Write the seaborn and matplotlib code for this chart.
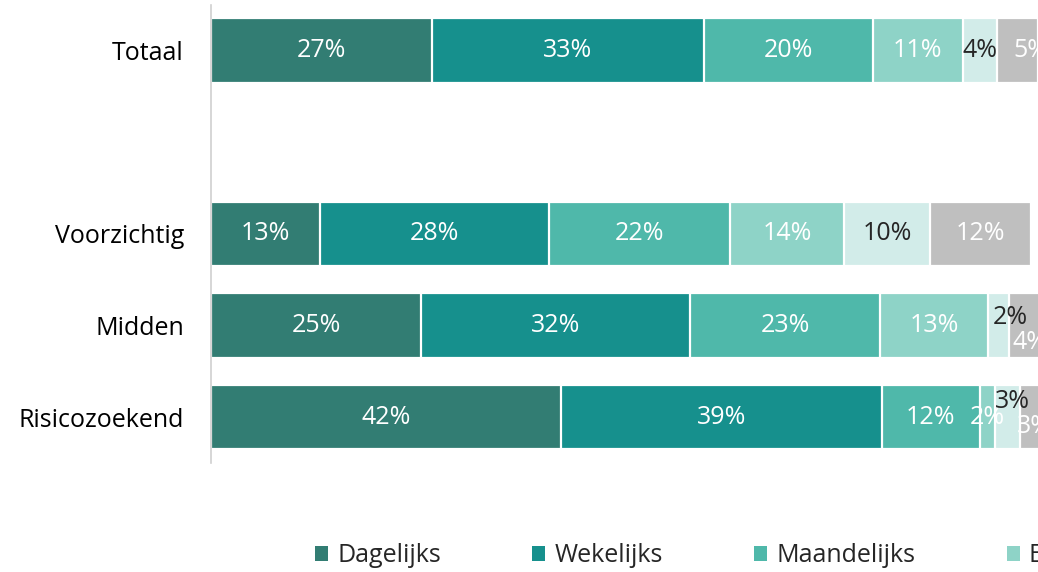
import numpy as np
import pandas as pd
import seaborn as sns
import matplotlib
matplotlib.use("Agg")
import matplotlib.pyplot as plt
from matplotlib.patches import Patch

# ---------------- data ----------------
categories = ["Totaal", "", "Voorzichtig", "Midden", "Risicozoekend"]
series = ["Dagelijks", "Wekelijks", "Maandelijks", "Eens per kwartaal", "Eens per jaar", "Minder vaak"]
totaal = [26.7, 32.9, 20.4, 10.9, 4.1, 5.0]
voorzichtig = [13.2, 27.7, 21.9, 13.7, 10.5, 12.1]
midden = [25.4, 32.5, 23.0, 13.1, 2.5, 4.0]
risicozoekend = [42.3, 38.8, 11.9, 1.8, 3.0, 3.0]

colors = ["#327D73", "#16908D", "#4FB8AA", "#8ED3C7", "#D2ECE9", "#BFBFBF"]
label_colors = ["white", "white", "white", "white", "#262626", "white"]

rows = {"Totaal": totaal, "Voorzichtig": voorzichtig, "Midden": midden, "Risicozoekend": risicozoekend}
records = []
for cat, vals in rows.items():
    for s, v in zip(series, vals):
        records.append({"cat": cat, "series": s, "value": v})
df = pd.DataFrame(records)
df["cum"] = df.groupby("cat")["value"].cumsum()

# manual label nudges (x in %, y in category units) for crowded small segments
nudges = {("Totaal", 5): (1.6, 0.0),
          ("Midden", 4): (1.4, -0.09), ("Midden", 5): (0.5, 0.19),
          ("Risicozoekend", 4): (0.6, -0.17), ("Risicozoekend", 5): (0.3, 0.10)}

# ---------------- figure ----------------
sns.set_style("white")
plt.rcParams["font.family"] = ["Open Sans", "DejaVu Sans"]
FS = 18

fig = plt.figure(figsize=(10.38, 5.72), dpi=100)
ax = fig.add_axes([211 / 1038, 1 - 463 / 572, 827 / 1038, (463 - 4.6) / 572])

for i in reversed(range(len(series))):
    sub = df[df["series"] == series[i]]
    sns.barplot(data=sub, x="cum", y="cat", order=categories, orient="h",
                color=colors[i], width=0.70, edgecolor="white", linewidth=1.6,
                saturation=1, ax=ax, errorbar=None)

ypos = {c: k for k, c in enumerate(categories)}
for _, r in df.iterrows():
    i = series.index(r["series"])
    dx, dy = nudges.get((r["cat"], i), (0.0, 0.0))
    ax.text(r["cum"] - r["value"] / 2 + dx, ypos[r["cat"]] + dy, f"{r['value']:.0f}%",
            ha="center", va="center", color=label_colors[i], fontsize=FS, clip_on=False)

ax.set_xlim(0, 100)
ax.set_ylim(len(categories) - 0.5, -0.5)
ax.set_xlabel("")
ax.set_ylabel("")
ax.set_xticks([])
ax.tick_params(axis="y", length=0, pad=19.5, labelsize=FS, labelcolor="black")
for side in ["top", "right", "bottom"]:
    ax.spines[side].set_visible(False)
ax.spines["left"].set_color("#D0D0D0")
ax.spines["left"].set_linewidth(1.2)

handles = [Patch(facecolor=c, edgecolor="none", label=s) for c, s in zip(colors, series)]
fig.legend(handles=handles, loc="center left", bbox_to_anchor=(315 / 1038, 1 - 556 / 572),
           ncol=6, frameon=False, fontsize=FS, handlelength=0.52, handleheight=0.52,
           handletextpad=0.36, columnspacing=3.66, borderpad=0, borderaxespad=0)

fig.savefig("out.png", dpi=100)
